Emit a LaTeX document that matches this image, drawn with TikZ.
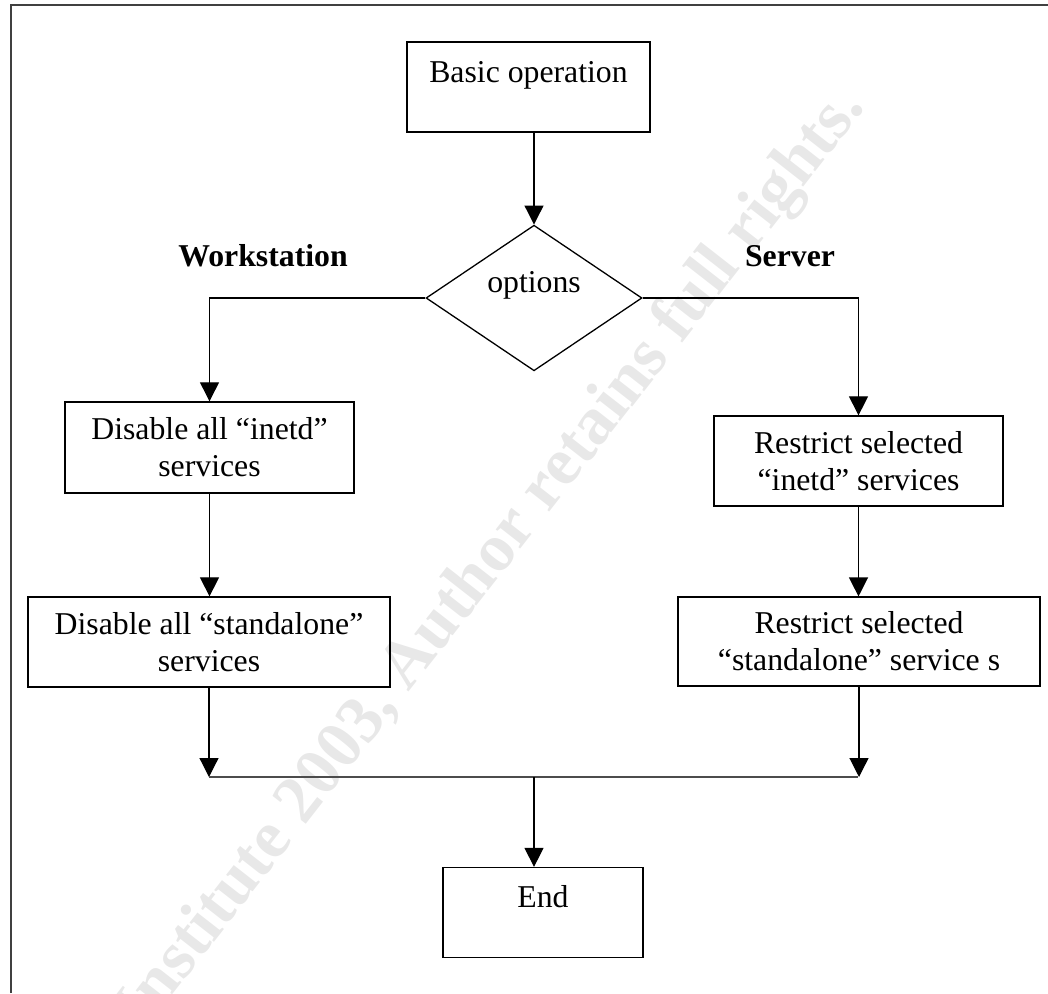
\documentclass[tikz,border=0pt]{standalone}
\usepackage{fontspec}
\setmainfont{Liberation Serif}
\usetikzlibrary{shapes.geometric,arrows.meta}
\tikzstyle{blk}=[draw, rectangle, line width=0.5pt, align=center, inner sep=0pt]
\tikzstyle{toptext}=[text height=0.54cm, text depth=0.675cm]
\tikzstyle{dec}=[draw, diamond, line width=0.5pt, inner sep=0pt, minimum width=2.916cm, minimum height=1.944cm, text depth=0.42cm]
\tikzstyle{arr}=[-{Triangle[length=7.3pt,width=7.3pt]}, line width=0.45pt]
\tikzstyle{hdr}=[font=\fontsize{12.2}{14.2}\selectfont\bfseries]
\tikzstyle{wm}=[text=black!9, font=\fontsize{26}{26}\selectfont\bfseries]

\begin{document}
\begin{tikzpicture}[x=0.0135cm, y=-0.0135cm, font=\fontsize{12.2}{14.2}\selectfont]
\useasboundingbox (0,0) rectangle (1048,993);

\node[wm, rotate=52, anchor=base east] (wmark) at (872,100) {© SANS Institute 2003, Author retains full rights.};

\draw[black!75, line width=0.8pt] (11,993) -- (11,5) -- (1048,5);

\node[blk, toptext, minimum width=3.28cm] (basic) at (528.5,87) {Basic operation};
\node[dec] (opts) at (534,298) {options};

\node[hdr] (lblws) at (263,256) {Workstation};
\node[hdr] (lblsv) at (790,256) {Server};

\node[blk, minimum width=3.9cm, minimum height=1.23cm] (ws1) at (209.5,447.5) {Disable all “inetd”\\services};
\node[blk, minimum width=4.89cm, minimum height=1.215cm] (ws2) at (209,642) {Disable all “standalone”\\services};
\node[blk, minimum width=3.9cm, minimum height=1.215cm] (sv1) at (858.5,461) {Restrict selected\\“inetd” services};
\node[blk, minimum width=4.89cm, minimum height=1.2cm] (sv2) at (859,641.5) {Restrict selected\\“standalone” service s};

\node[blk, toptext, minimum width=2.7cm] (fin) at (543,912.5) {End};

\coordinate (joinL) at (209,777);
\coordinate (joinM) at (534,777);
\coordinate (joinR) at (858,777);

\draw[arr] (basic.south -| opts.north) -- (opts.north);
\draw[arr] (opts.west) -| (ws1.north);
\draw[arr] (opts.east) -| (sv1.north);
\draw[arr] (ws1.south) -- (ws1.south |- ws2.north);
\draw[arr] (sv1.south) -- (sv1.south |- sv2.north);
\draw[arr] (ws2.south) -- (ws2.south |- joinL);
\draw[arr] (sv2.south) -- (sv2.south |- joinR);
\draw[black!70, line width=0.7pt] (joinL) -- (joinR);
\draw[arr] (joinM) -- (joinM |- fin.north);

\end{tikzpicture}
\end{document}
